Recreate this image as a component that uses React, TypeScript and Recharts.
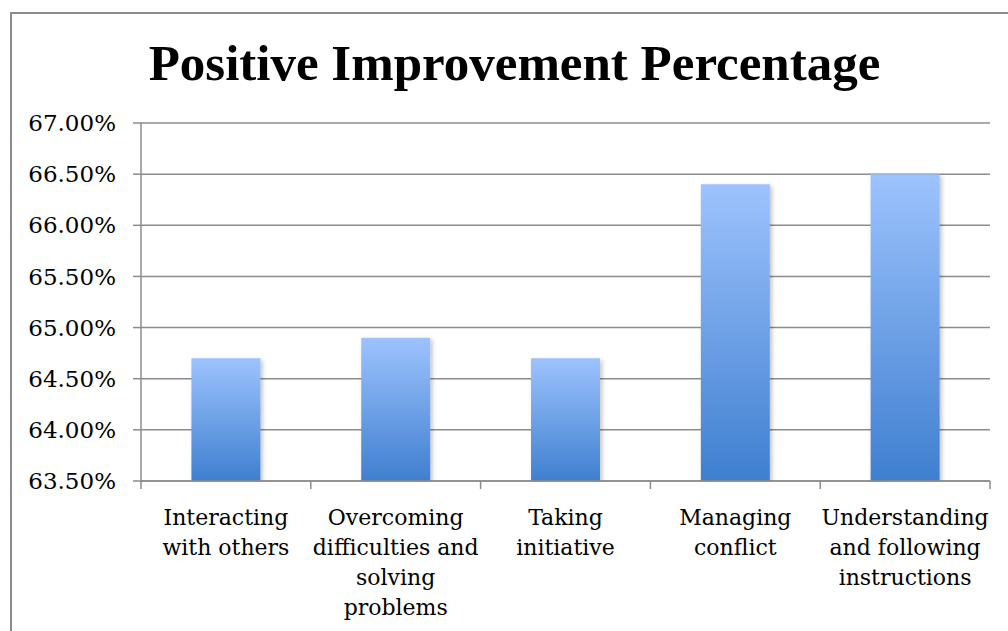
import React from "react";
import { BarChart, Bar, XAxis, YAxis, CartesianGrid } from "recharts";

const categories = [
  "Interacting\nwith others",
  "Overcoming\ndifficulties and\nsolving\nproblems",
  "Taking\ninitiative",
  "Managing\nconflict",
  "Understanding\nand following\ninstructions",
];
const improvement = [64.7, 64.9, 64.7, 66.4, 66.5];
const yTicks = [63.5, 64.0, 64.5, 65.0, 65.5, 66.0, 66.5, 67.0];

const data = categories.map((name, i) => ({ name, value: improvement[i] }));

const AXIS = "#8c8c8c";
const FONT = "'DejaVu Serif', serif";

function CategoryTick(props: any) {
  const { x, y, payload, index } = props;
  const half = payload && payload.offset ? payload.offset : 85;
  const lines = String(payload.value).split("\n");
  return (
    <g>
      <line x1={x - half} y1={y - 8} x2={x - half} y2={y} stroke={AXIS} strokeWidth={1.5} />
      {index === categories.length - 1 && (
        <line x1={x + half} y1={y - 8} x2={x + half} y2={y} stroke={AXIS} strokeWidth={1.5} />
      )}
      <text x={x} y={y + 36} textAnchor="middle" fontFamily={FONT} fontSize={22} fill="#000">
        {lines.map((l, i) => (
          <tspan key={i} x={x} dy={i === 0 ? 0 : 30}>
            {l}
          </tspan>
        ))}
      </text>
    </g>
  );
}

export default function App() {
  return (
    <div style={{ position: "absolute", left: 0, top: 0, width: 1008, height: 631, overflow: "hidden", background: "#fff" }}>
      <div
        style={{
          position: "absolute",
          left: 10,
          top: 12,
          width: 1020,
          height: 650,
          border: "2px solid #8c8c8c",
        }}
      />
      <div
        style={{
          position: "absolute",
          left: 0,
          top: 35,
          width: 1029,
          textAlign: "center",
          fontFamily: "'Liberation Serif', serif",
          fontWeight: "bold",
          fontSize: 51,
          lineHeight: "56px",
          color: "#000",
        }}
      >
        Positive Improvement Percentage
      </div>
      <div style={{ position: "absolute", left: 0, top: 0 }}>
        <BarChart
          width={1008}
          height={631}
          data={data}
          margin={{ top: 123, right: 18, bottom: 0, left: 11 }}
          barCategoryGap="29.7%"
        >
          <defs>
            <linearGradient id="barFill" x1="0" y1="0" x2="0" y2="1">
              <stop offset="0%" stopColor="#9dc3fd" />
              <stop offset="100%" stopColor="#3f7fd0" />
            </linearGradient>
            <filter id="barShadow" x="-20%" y="-20%" width="140%" height="140%">
              <feDropShadow dx="2" dy="2" stdDeviation="2" floodColor="#000" floodOpacity="0.25" />
            </filter>
          </defs>
          <CartesianGrid vertical={false} stroke={AXIS} strokeWidth={1.5} />
          <XAxis
            dataKey="name"
            interval={0}
            height={150}
            axisLine={{ stroke: AXIS, strokeWidth: 1.5 }}
            tickLine={false}
            tick={<CategoryTick />}
          />
          <YAxis
            width={130}
            domain={[63.5, 67]}
            ticks={yTicks}
            interval={0}
            allowDataOverflow
            tickFormatter={(v: number) => v.toFixed(2) + "%"}
            axisLine={{ stroke: AXIS, strokeWidth: 1.5 }}
            tickLine={{ stroke: AXIS, strokeWidth: 1.5 }}
            tickSize={8}
            tickMargin={17}
            tick={{ fill: "#000", fontFamily: FONT, fontSize: 23 }}
          />
          <Bar dataKey="value" fill="url(#barFill)" filter="url(#barShadow)" isAnimationActive={false} />
        </BarChart>
      </div>
    </div>
  );
}
